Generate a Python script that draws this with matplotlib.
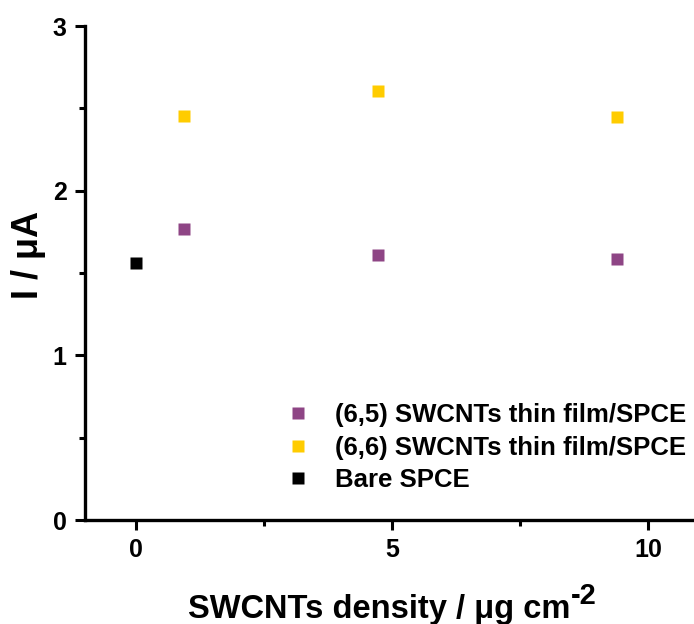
import matplotlib
matplotlib.use('Agg')
import matplotlib.pyplot as plt
from matplotlib.ticker import MultipleLocator

plt.rcParams['font.family'] = 'Liberation Sans'
plt.rcParams['font.weight'] = 'bold'

# data
density = [0.94, 4.73, 9.40]
i_65 = [1.766, 1.608, 1.588]
i_66 = [2.451, 2.606, 2.445]
bare_x = [0.0]
bare_i = [1.561]

labels = ['(6,5) SWCNTs thin film/SPCE', '(6,6) SWCNTs thin film/SPCE', 'Bare SPCE']
colors = ['#8e4585', '#ffcc00', '#000000']

W, H = 694, 624
fig = plt.figure(figsize=(W / 100, H / 100), dpi=100)
# axes box in pixels: left 85, right 694, bottom 520, top 26
ax = fig.add_axes([85 / W, 104 / H, 609 / W, 494 / H])

ms = 8
ax.plot(density, i_65, 's', color=colors[0], ms=ms, mec='none', label=labels[0])
ax.plot(density, i_66, 's', color=colors[1], ms=ms, mec='none', label=labels[1])
ax.plot(bare_x, bare_i, 's', color=colors[2], ms=ms, mec='none', label=labels[2])

ax.set_xlim(-1.0, 10.9)
ax.set_ylim(0, 3)
ax.xaxis.set_major_locator(MultipleLocator(5))
ax.xaxis.set_minor_locator(MultipleLocator(2.5))
ax.yaxis.set_major_locator(MultipleLocator(1))
ax.yaxis.set_minor_locator(MultipleLocator(0.5))

ax.spines['top'].set_visible(False)
ax.spines['right'].set_visible(False)
ax.spines['left'].set_linewidth(2.4)
ax.spines['bottom'].set_linewidth(2.4)

ax.tick_params('both', which='major', direction='out', length=7.2, width=2.2,
               labelsize=18, pad=6)
ax.tick_params('both', which='minor', direction='out', length=4.3, width=2.2)

xlab = ax.set_xlabel('SWCNTs density / μg cm', fontsize=23.5, fontweight='bold',
                     ha='left', va='baseline')
ax.xaxis.set_label_coords((188 - 85) / 609, (520 - 618) / 494)
ax.set_ylabel('I / μA', fontsize=26, fontweight='bold')
ax.yaxis.set_label_coords(-0.064, 0.536)

ax.legend(loc='upper left', bbox_to_anchor=(0.3118, 0.258), frameon=False,
          handletextpad=0.94, handlelength=1.0, labelspacing=0.34,
          prop={'size': 18.5, 'weight': 'bold'}, borderaxespad=0)

# superscript "-2" placed right after the x label
fig.canvas.draw()
bb = xlab.get_window_extent()
fig.text(bb.x1 + 1, H - 604, '-2', fontsize=21, fontweight='bold',
         ha='left', va='baseline', transform=None)

fig.savefig('out.png', dpi=100)
